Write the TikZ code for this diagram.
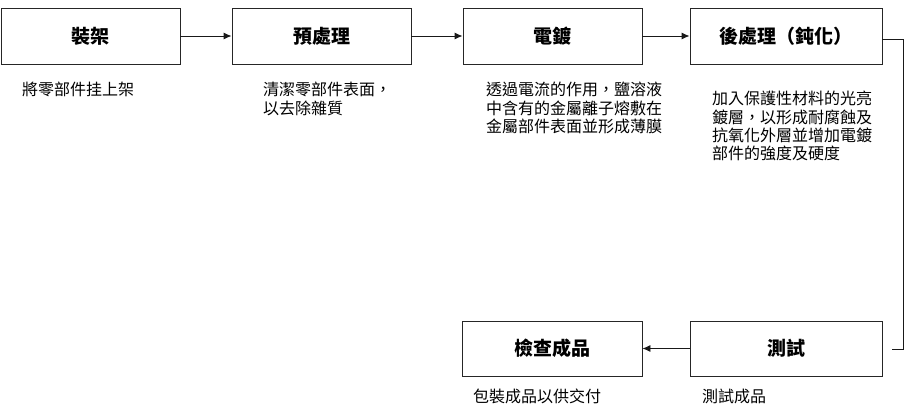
\documentclass[tikz,border=0pt]{standalone}
\usepackage{fontspec}
\setmainfont{Noto Sans CJK TC}
\usetikzlibrary{arrows.meta}
\tikzset{
  stepbox/.style={draw=black!85, line width=0.9pt, rectangle, minimum height=56pt, inner sep=0pt,
    font=\fontsize{19}{21}\selectfont\bfseries},
  desc/.style={anchor=north west, inner sep=0pt, align=left, font=\fontsize{16}{18.3}\selectfont},
  conn/.style={draw=black!90, line width=0.9pt},
  arr/.style={conn, -{Latex[length=8pt,width=7pt]}}
}
\begin{document}
\begin{tikzpicture}[x=1pt,y=-1pt]
\useasboundingbox (0,0) rectangle (916,414);
\node[stepbox, minimum width=179pt] (b1) at (90.5,36) {裝架};
\node[stepbox, minimum width=179pt] (b2) at (321.5,36) {預處理};
\node[stepbox, minimum width=179pt] (b3) at (552.5,36) {電鍍};
\node[stepbox, minimum width=192pt] (b4) at (786,36) {後處理（鈍化）};
\node[stepbox, minimum width=192pt, minimum height=55pt] (b5) at (786,348.5) {測試};
\node[stepbox, minimum width=180pt, minimum height=55pt] (b6) at (552,348.5) {檢查成品};

\node[desc] (d1) at (22,82) {將零部件挂上架};
\node[desc] (d2) at (263,82) {清潔零部件表面，\\以去除雜質};
\node[desc] (d3) at (486,82) {透過電流的作用，鹽溶液\\中含有的金屬離子熔敷在\\金屬部件表面並形成薄膜};
\node[desc] (d4) at (712,91) {加入保護性材料的光亮\\鍍層，以形成耐腐蝕及\\抗氧化外層並增加電鍍\\部件的強度及硬度};
\node[desc] (d6) at (473,389) {包裝成品以供交付};
\node[desc] (d5) at (702,389) {測試成品};

\draw[arr] (b1) -- (b2);
\draw[arr] (b2) -- (b3);
\draw[arr] (b3) -- (b4);
\coordinate (c1) at (903,39);
\coordinate (c2) at (903,349);
\coordinate (c3) at (892,349);
\draw[conn] ([yshift=-3pt]b4.east) -- (c1) -- (c2) -- (c3);
\draw[arr] (b5) -- (b6);
\end{tikzpicture}
\end{document}
